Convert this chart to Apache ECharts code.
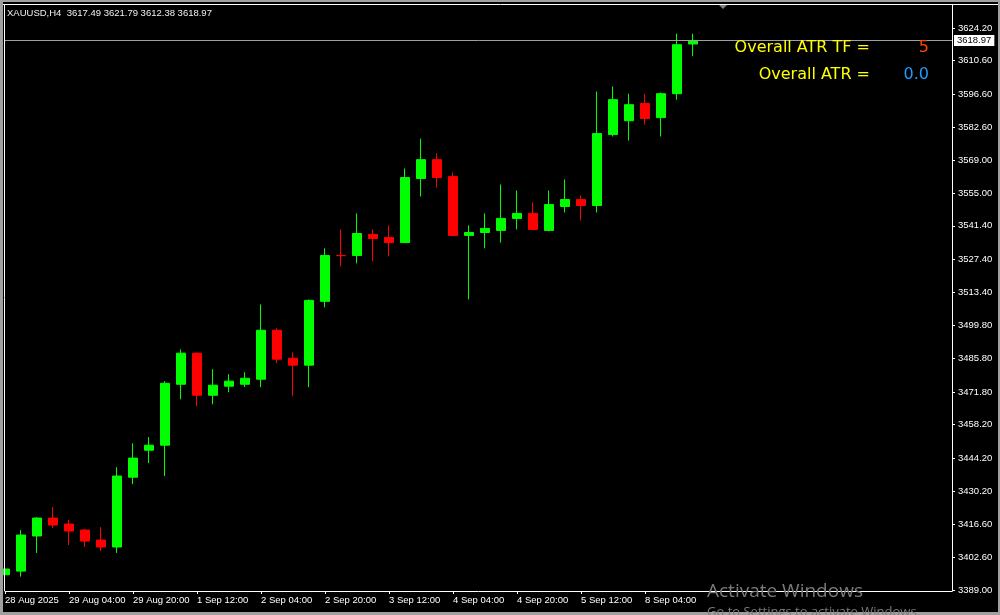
<!DOCTYPE html>
<html>
<head>
<meta charset="utf-8">
<script src="https://cdn.jsdelivr.net/npm/echarts@6/dist/echarts.min.js"></script>
<style>
html,body{margin:0;padding:0;background:#000;}
#chart{width:1000px;height:615px;}
</style>
</head>
<body>
<div id="chart"></div>
<script>
// H4 bars, XAUUSD
const times = [
  '28 Aug 12:00','28 Aug 16:00','28 Aug 20:00','29 Aug 00:00','29 Aug 04:00','29 Aug 08:00',
  '29 Aug 12:00','29 Aug 16:00','29 Aug 20:00','1 Sep 00:00','1 Sep 04:00','1 Sep 08:00',
  '1 Sep 12:00','1 Sep 16:00','1 Sep 20:00','2 Sep 00:00','2 Sep 04:00','2 Sep 08:00',
  '2 Sep 12:00','2 Sep 16:00','2 Sep 20:00','3 Sep 00:00','3 Sep 04:00','3 Sep 08:00',
  '3 Sep 12:00','3 Sep 16:00','3 Sep 20:00','4 Sep 00:00','4 Sep 04:00','4 Sep 08:00',
  '4 Sep 12:00','4 Sep 16:00','4 Sep 20:00','5 Sep 00:00','5 Sep 04:00','5 Sep 08:00',
  '5 Sep 12:00','5 Sep 16:00','5 Sep 20:00','8 Sep 00:00','8 Sep 04:00','8 Sep 08:00',
  '8 Sep 12:00','8 Sep 16:00'
];
const opens = [
  3395.4,3396.9,3411.6,3419.1,3416.6,3414.1,3409.9,3407.0,3436.2,3447.5,3449.6,3475.1,
  3488.1,3470.5,3474.3,3475.1,3477.2,3497.7,3486.0,3483.1,3509.8,3529.0,3529.0,3537.8,
  3536.5,3534.4,3561.2,3569.1,3562.0,3537.4,3538.6,3539.5,3544.5,3546.6,3539.5,3549.5,
  3552.4,3549.9,3579.6,3585.4,3592.6,3586.7,3596.7,3617.49
];
const closes = [
  3397.8,3412.0,3419.1,3416.2,3413.7,3409.5,3407.0,3436.7,3444.2,3449.6,3475.5,3488.1,
  3470.5,3474.7,3476.4,3477.6,3497.7,3485.6,3483.1,3510.2,3529.0,3528.9,3538.2,3536.1,
  3534.4,3561.6,3569.1,3561.6,3537.4,3538.6,3540.3,3544.5,3546.6,3539.9,3550.3,3552.4,
  3549.9,3580.0,3594.2,3592.1,3586.3,3596.7,3617.2,3618.97
];
const lows = [
  3393.6,3394.6,3404.5,3414.9,3407.8,3407.0,3405.3,3404.5,3433.3,3442.1,3436.7,3468.8,
  3465.9,3466.7,3471.8,3473.9,3473.9,3483.9,3470.1,3473.9,3507.3,3524.4,3525.7,3526.5,
  3528.6,3534.2,3553.7,3557.5,3537.0,3510.6,3532.0,3534.4,3539.9,3539.5,3539.1,3547.0,
  3543.6,3547.0,3578.8,3577.1,3583.8,3578.8,3594.2,3612.38
];
const highs = [
  3402.0,3414.1,3419.5,3423.7,3418.3,3414.5,3415.3,3440.4,3450.4,3453.0,3476.4,3489.7,
  3488.5,3481.4,3479.3,3480.1,3508.5,3498.5,3488.5,3510.6,3532.0,3539.9,3546.6,3539.9,
  3541.6,3565.4,3577.9,3571.7,3563.7,3541.6,3546.6,3558.7,3556.2,3551.2,3556.2,3560.8,
  3554.1,3597.6,3599.7,3596.7,3596.7,3597.2,3621.8,3621.79
];
const yTicks = [
  3389.0,3402.6,3416.6,3430.2,3444.2,3458.2,3471.8,3485.8,3499.8,
  3513.4,3527.4,3541.4,3555.0,3569.0,3582.6,3596.6,3610.6,3624.2
];
const xTickIdx = [0,4,8,12,16,20,24,28,32,36,40];
const xTickLabels = [
  '28 Aug 2025','29 Aug 04:00','29 Aug 20:00','1 Sep 12:00','2 Sep 04:00','2 Sep 20:00',
  '3 Sep 12:00','4 Sep 04:00','4 Sep 20:00','5 Sep 12:00','8 Sep 04:00'
];
const symbolName = 'XAUUSD,H4';
const atrTF = '5';
const atrValue = '0.0';

const last = times.length - 1;
const lastPrice = closes[last];
const candleData = times.map((t, i) => [i, opens[i], closes[i], lows[i], highs[i]]);

const chart = echarts.init(document.getElementById('chart'));
const axisFont = '"Liberation Sans", Arial, sans-serif';
const frame = '#a0a0a0';

chart.setOption({
  backgroundColor: '#000000',
  animation: false,
  grid: { left: 5, top: 5, width: 947, height: 586, containLabel: false },
  xAxis: {
    type: 'value',
    min: 0,
    max: 947 / 16,
    splitLine: { show: false },
    axisLine: { show: true, onZero: false, lineStyle: { color: '#ffffff', width: 1 } },
    axisTick: { show: true, length: 3, lineStyle: { color: '#ffffff' }, customValues: xTickIdx },
    axisLabel: {
      show: true, customValues: xTickIdx, color: '#ffffff', fontSize: 9.5, fontFamily: axisFont,
      align: 'left', margin: 4,
      formatter: v => { const k = xTickIdx.indexOf(Math.round(v)); return k >= 0 ? xTickLabels[k] : ''; }
    }
  },
  yAxis: {
    type: 'value',
    position: 'right',
    min: 3388.58,
    max: 3633.82,
    scale: true,
    splitLine: { show: false },
    axisLine: { show: true, onZero: false, lineStyle: { color: '#ffffff', width: 1 } },
    axisTick: { show: true, length: 3, lineStyle: { color: '#ffffff' }, customValues: yTicks },
    axisLabel: {
      show: true, customValues: yTicks, color: '#ffffff', fontSize: 9.5, fontFamily: axisFont,
      margin: 6, formatter: v => v.toFixed(2)
    }
  },
  series: [{
    type: 'candlestick',
    data: candleData,
    encode: { x: 0, y: [1, 2, 3, 4] },
    barWidth: 10,
    clip: true,
    silent: true,
    itemStyle: {
      color: '#00ff00', color0: '#ff0000',
      borderColor: '#00ff00', borderColor0: '#ff0000', borderWidth: 1
    },
    markLine: {
      silent: true,
      symbol: ['none', 'none'],
      lineStyle: { color: '#a0a0a0', width: 1, type: 'solid' },
      label: {
        show: true, position: 'end', distance: 2,
        formatter: () => lastPrice.toFixed(2),
        color: '#000000', backgroundColor: '#ffffff', padding: [1, 3, 0, 3],
        fontSize: 9.5, fontFamily: axisFont
      },
      data: [{ yAxis: lastPrice }]
    }
  }],
  graphic: [
    // window frame
    { type: 'rect', shape: { x: 0, y: 0, width: 1000, height: 2 }, style: { fill: frame }, z: 100 },
    { type: 'rect', shape: { x: 0, y: 0, width: 3, height: 615 }, style: { fill: frame }, z: 100 },
    { type: 'rect', shape: { x: 998, y: 0, width: 2, height: 615 }, style: { fill: frame }, z: 100 },
    { type: 'rect', shape: { x: 0, y: 612, width: 1000, height: 3 }, style: { fill: frame }, z: 100 },
    { type: 'line', shape: { x1: 3, y1: 4.5, x2: 998, y2: 4.5 }, style: { stroke: '#ffffff', lineWidth: 1 }, z: 100 },
    { type: 'line', shape: { x1: 4.5, y1: 4, x2: 4.5, y2: 591 }, style: { stroke: '#ffffff', lineWidth: 1 }, z: 100 },
    // chart shift marker
    { type: 'polygon', shape: { points: [[719, 5], [727, 5], [723, 9]] }, style: { fill: '#808080' }, z: 100 },
    // header
    { type: 'text', x: 7, y: 13, z: 100, style: {
        text: symbolName + '  ' + opens[last].toFixed(2) + ' ' + highs[last].toFixed(2) + ' ' + lows[last].toFixed(2) + ' ' + closes[last].toFixed(2),
        fill: '#f0f0f0', font: '9.5px "Liberation Sans", Arial, sans-serif',
        textAlign: 'left', align: 'left', textVerticalAlign: 'middle', verticalAlign: 'middle' } },
    // ATR labels
    { type: 'text', x: 870, y: 48, z: 100, style: {
        text: 'Overall ATR TF =', fill: '#ffff00', font: '16px "DejaVu Sans", sans-serif',
        textAlign: 'right', align: 'right', textVerticalAlign: 'middle', verticalAlign: 'middle' } },
    { type: 'text', x: 929, y: 48, z: 100, style: {
        text: atrTF, fill: '#ff4500', font: '16px "DejaVu Sans", sans-serif',
        textAlign: 'right', align: 'right', textVerticalAlign: 'middle', verticalAlign: 'middle' } },
    { type: 'text', x: 870, y: 75, z: 100, style: {
        text: 'Overall ATR =', fill: '#ffff00', font: '16px "DejaVu Sans", sans-serif',
        textAlign: 'right', align: 'right', textVerticalAlign: 'middle', verticalAlign: 'middle' } },
    { type: 'text', x: 929, y: 75, z: 100, style: {
        text: atrValue, fill: '#1e9bff', font: '16px "DejaVu Sans", sans-serif',
        textAlign: 'right', align: 'right', textVerticalAlign: 'middle', verticalAlign: 'middle' } },
    // OS watermark
    { type: 'text', x: 707, y: 592, z: 200, style: {
        text: 'Activate Windows', fill: '#7a7a7a', font: '19px "Open Sans", "Noto Sans", sans-serif',
        textAlign: 'left', align: 'left', textVerticalAlign: 'middle', verticalAlign: 'middle' } },
    { type: 'text', x: 707, y: 606, z: 200, style: {
        text: 'Go to Settings to activate Windows.', fill: '#7a7a7a', font: '13px "Open Sans", "Noto Sans", sans-serif',
        textAlign: 'left', align: 'left', textVerticalAlign: 'top', verticalAlign: 'top' } }
  ]
});
</script>
</body>
</html>
